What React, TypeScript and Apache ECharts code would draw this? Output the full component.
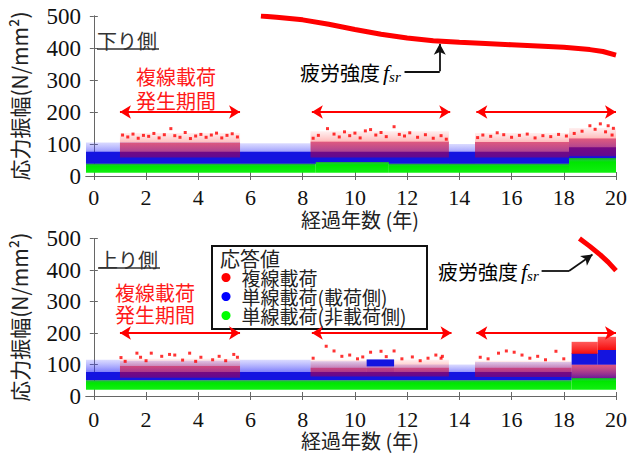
import React, { useEffect, useRef } from 'react';
import * as echarts from 'echarts';

const xTicks = [0, 2, 4, 6, 8, 10, 12, 14, 16, 18, 20];
const yTicks = [0, 100, 200, 300, 400, 500];
const names = ['複線載荷', '単線載荷(載荷側)', '単線載荷(非載荷側)'];

// fatigue strength f_sr [year, N/mm²]
const fsrDown = [[6.4, 500], [7, 496], [8, 488], [9, 474], [10, 458], [11, 443], [12, 431], [13, 423], [14, 418], [15, 414], [16, 410], [17, 406], [18, 402], [19, 395], [19.5, 389], [20, 378]];
const fsrUp = [[18.6, 500], [19, 475], [19.4, 448], [19.7, 425], [20, 398]];

// double-track loading periods [start, end]
const periodsDown = [[1.0, 5.6], [8.35, 13.65], [14.65, 20]];
const periodsUp = [[1.0, 5.6], [8.35, 13.7], [14.65, 20]];
const periodLevel = 200;

// response bands [x0, x1, low, high]  (下り側)
const greenDown = [[-0.3, 8.5, 10, 38], [8.5, 11.3, 10, 44], [11.3, 18.2, 10, 38], [18.2, 20, 10, 56]];
const blueDown = [[-0.3, 1.0, 38, 105], [1.0, 5.6, 38, 106], [5.6, 8.3, 38, 102], [8.3, 13.6, 38, 106], [13.6, 14.6, 38, 100], [14.6, 18.2, 38, 106], [18.2, 20, 52, 116]];
const blueDenseDown = [[-0.3, 18.2, 38, 76], [18.2, 20, 52, 90]];
const redBandDown = [[1.0, 5.6, 58, 104], [8.3, 13.6, 58, 108], [14.6, 18.2, 58, 106], [18.2, 20, 62, 118]];
const redSparseDown = [[1.0, 5.6, 104, 134], [8.3, 13.6, 108, 140], [14.6, 18.2, 106, 134], [18.2, 20, 118, 150]];
const redBlockDown: number[][] = [];
const redDotsDown = [
  [1.1, 128], [1.3, 122], [1.5, 131], [1.7, 118], [1.9, 127], [2.1, 124], [2.3, 133], [2.5, 119], [2.7, 129], [2.95, 148], [3.1, 126], [3.3, 121], [3.5, 136], [3.7, 117], [3.9, 125], [4.1, 130], [4.3, 121], [4.5, 128], [4.7, 134], [4.9, 119], [5.1, 127], [5.3, 132], [5.5, 122],
  [8.4, 118], [8.6, 127], [8.95, 148], [9.2, 131], [9.4, 122], [9.6, 138], [9.8, 126], [10.0, 134], [10.2, 119], [10.4, 141], [10.6, 145], [10.8, 128], [11.0, 136], [11.2, 123], [11.5, 154], [11.7, 130], [11.9, 125], [12.1, 135], [12.4, 121], [12.7, 129], [13.0, 118], [13.3, 126], [13.5, 115],
  [14.7, 120], [14.9, 128], [15.2, 124], [15.45, 135], [15.7, 129], [16.0, 121], [16.3, 127], [16.6, 131], [16.9, 119], [17.2, 126], [17.5, 123], [17.8, 130], [18.1, 125], [18.4, 133], [18.7, 140], [19.0, 157], [19.2, 146], [19.4, 163], [19.6, 138], [19.7, 157], [19.9, 149], [19.85, 128],
];

// response bands (上り側)
const greenUp = [[-0.3, 18.3, 20, 50], [18.3, 20, 20, 57]];
const blueUp = [[-0.3, 1.0, 50, 115], [1.0, 5.6, 50, 112], [5.6, 8.3, 50, 115], [8.3, 10.45, 50, 110], [10.45, 11.5, 50, 116], [11.5, 14.6, 50, 100], [14.6, 18.3, 50, 108], [18.3, 20, 57, 99]];
const blueDenseUp = [[-0.3, 18.3, 50, 76], [10.45, 11.5, 94, 116], [18.3, 19.3, 99, 136], [19.3, 20, 99, 146]];
const redBandUp = [[1.0, 5.6, 58, 95], [8.3, 13.6, 62, 90], [14.6, 18.3, 60, 90], [18.3, 20, 57, 99]];
const redSparseUp = [[1.0, 5.6, 95, 118], [8.3, 13.6, 90, 115], [14.6, 18.3, 90, 112]];
const redBlockUp = [[18.3, 19.3, 134, 172], [19.3, 20, 146, 188]];
const redDotsUp = [
  [1.04, 122], [1.2, 110], [1.65, 136], [1.79, 123], [2.0, 112], [2.2, 136], [2.6, 126], [2.9, 132], [3.1, 130], [3.4, 114], [3.67, 136], [3.9, 110], [4.1, 123], [4.55, 115], [4.8, 126], [5.05, 112], [5.36, 132], [5.5, 123],
  [8.4, 120], [8.9, 158], [9.2, 143], [9.5, 126], [9.8, 130], [10.1, 118], [10.3, 124], [10.6, 139], [11.0, 142], [11.2, 125], [11.5, 143], [11.8, 118], [12.2, 124], [12.5, 112], [12.8, 120], [13.1, 130], [13.3, 120], [13.35, 126],
  [14.8, 123], [15.1, 118], [15.5, 136], [15.8, 143], [16.1, 139], [16.4, 130], [16.7, 120], [17.0, 126], [17.3, 115], [17.7, 142], [18.0, 118],
];

const FONT_JP = "'Noto Sans CJK JP', sans-serif";
const FONT_NUM = "'Liberation Serif', serif";
const RED = '#ff0000';
const BLUE = '#0000ff';
const GREEN = '#00e600';

const grad = (stops: [number, string][]) =>
  new echarts.graphic.LinearGradient(0, 0, 0, 1, stops.map(([offset, color]) => ({ offset, color })));

function band(name: string, data: number[][], ai: number, fill: any, z: number, color: string) {
  return {
    type: 'custom', name, xAxisIndex: ai, yAxisIndex: ai, data, z, silent: true, clip: true,
    encode: { x: [0, 1], y: [2, 3] }, itemStyle: { color },
    renderItem: (_p: any, api: any) => {
      const a = api.coord([api.value(0), api.value(3)]);
      const b = api.coord([api.value(1), api.value(2)]);
      return { type: 'rect', shape: { x: a[0], y: a[1], width: b[0] - a[0], height: b[1] - a[1] }, style: { fill } };
    },
  };
}

function panelSeries(gi: number, d: any) {
  const ai = gi * 2;
  const blueLightFill = grad([[0, 'rgba(90,90,255,0.22)'], [0.45, 'rgba(50,50,250,0.5)'], [1, 'rgba(20,20,235,0.85)']]);
  const redFill = grad([[0, 'rgba(225,0,40,0.6)'], [1, 'rgba(160,0,80,0.55)']]);
  const redSparseFill = grad([[0, 'rgba(255,60,60,0.08)'], [1, 'rgba(255,30,30,0.3)']]);
  const redBlockFill = grad([[0, 'rgba(255,20,20,0.7)'], [1, 'rgba(245,0,0,0.95)']]);
  const greenFill = grad([[0, '#1f9a3a'], [0.15, '#14d028'], [0.28, GREEN], [1, '#10f010']]);
  const arrows = d.periods.map((p: number[]) => [
    { coord: [p[0], periodLevel], symbol: 'arrow' },
    { coord: [p[1], periodLevel], symbol: 'arrow' },
  ]);
  return [
    band(names[1], d.blue, ai, blueLightFill, 2, BLUE),
    band(names[0], d.redSparse, ai, redSparseFill, 2, RED),
    band(names[1], d.blueDense, ai, '#1414e0', 3, BLUE),
    band(names[0], d.red, ai, redFill, 4, RED),
    band(names[0], d.redBlock, ai, redBlockFill, 4, RED),
    band(names[2], d.green, ai, greenFill, 5, GREEN),
    {
      type: 'scatter', name: names[0], xAxisIndex: ai, yAxisIndex: ai, data: d.dots, symbol: 'rect', symbolSize: 3,
      itemStyle: { color: RED }, silent: true, z: 6,
    },
    {
      type: 'line', name: 'fsr', xAxisIndex: ai, yAxisIndex: ai, data: d.fsr, showSymbol: false, symbol: 'none',
      lineStyle: { color: RED, width: 5 }, silent: true, z: 7, clip: true,
      markLine: {
        silent: true, symbolSize: [10, 11], label: { show: false }, animation: false,
        lineStyle: { color: RED, width: 2, type: 'solid' },
        data: [
          ...arrows,
          ...d.note.map((seg: number[][], i: number) => [
            { coord: seg[0], symbol: 'none', lineStyle: { color: '#111', width: 1.8, type: 'solid' } },
            { coord: seg[1], symbol: i === d.note.length - 1 ? 'arrow' : 'none', symbolSize: [9, 11] },
          ]),
        ],
      },
    },
  ];
}

const axisFrame = { show: true, lineStyle: { color: '#666', width: 1 } };
const numLabel = (size: number) => ({
  formatter: '{n|{value}}',
  rich: { n: { fontFamily: FONT_NUM, fontSize: size, color: '#111' } },
});

function xAxes(gi: number, margin: number) {
  return [
    {
      type: 'value', gridIndex: gi, min: -0.3, max: 20, position: 'bottom',
      axisLine: axisFrame, splitLine: { show: false },
      axisTick: { inside: true, length: 4, customValues: xTicks, lineStyle: { color: '#666' } },
      axisLabel: { ...numLabel(22), customValues: xTicks, margin },
    },
    {
      type: 'value', gridIndex: gi, min: -0.3, max: 20, position: 'top',
      axisLine: axisFrame, splitLine: { show: false }, axisLabel: { show: false },
      axisTick: { inside: true, length: 4, customValues: xTicks, lineStyle: { color: '#666' } },
    },
  ];
}

function yAxes(gi: number) {
  return [
    {
      type: 'value', gridIndex: gi, min: 0, max: 500, interval: 100, position: 'left',
      axisLine: axisFrame, splitLine: { show: false },
      axisTick: { inside: true, length: 4, customValues: yTicks, lineStyle: { color: '#666' } },
      axisLabel: { ...numLabel(23), customValues: yTicks, margin: 5 },
      name: '応力振幅(N/mm²)', nameLocation: 'middle', nameRotate: 90, nameGap: 57,
      nameTextStyle: { fontFamily: FONT_JP, fontSize: 21, color: '#222' },
    },
    {
      type: 'value', gridIndex: gi, min: 0, max: 500, interval: 100, position: 'right',
      axisLine: axisFrame, splitLine: { show: false }, axisLabel: { show: false },
      axisTick: { inside: true, length: 4, customValues: yTicks, lineStyle: { color: '#666' } },
    },
  ];
}

const fsrRich = (x: number, y: number) => ({
  type: 'text', x, y, z: 10,
  style: {
    text: '{a|疲労強度}{f|f}{s|sr}', verticalAlign: 'middle', align: 'left',
    rich: {
      a: { fontFamily: FONT_JP, fontSize: 20, color: '#222', lineHeight: 24, verticalAlign: 'middle' },
      f: { fontFamily: FONT_NUM, fontStyle: 'italic', fontSize: 22, color: '#222', lineHeight: 24, padding: [0, 0, 0, 3] },
      s: { fontFamily: FONT_NUM, fontStyle: 'italic', fontSize: 15, color: '#222', lineHeight: 24, verticalAlign: 'bottom' },
    },
  },
});

const sideLabel = (text: string, x: number, y: number) => [
  { type: 'text', x, y, z: 10, style: { text, fontFamily: FONT_JP, fontSize: 20, fill: '#333', verticalAlign: 'middle' } },
  { type: 'line', z: 10, shape: { x1: x, y1: y + 9, x2: x + 62, y2: y + 9 }, style: { stroke: '#333', lineWidth: 1.5 } },
];

const periodLabel = (cx: number, cy: number, lh: number) => ({
  type: 'text', x: cx, y: cy, z: 10,
  style: { text: '複線載荷\n発生期間', fontFamily: FONT_JP, fontSize: 20, lineHeight: lh, fill: '#ff1a1a', align: 'center', verticalAlign: 'middle' },
});

const option: any = {
  animation: false,
  backgroundColor: '#fff',
  grid: [
    { left: 79, top: 16, width: 540, height: 160 },
    { left: 79, top: 238.5, width: 540, height: 157.5 },
  ],
  xAxis: [...xAxes(0, 10), ...xAxes(1, 12)],
  yAxis: [...yAxes(0), ...yAxes(1)],
  legend: {
    left: 216.5, top: 263, orient: 'vertical', itemGap: 0, itemWidth: 9, itemHeight: 9, selectedMode: false, z: 12,
    icon: 'circle',
    textStyle: { fontFamily: FONT_JP, fontSize: 19, color: '#222', lineHeight: 19, padding: [0, 0, 0, 6] },
    data: [
      { name: names[0], icon: 'circle', itemStyle: { color: RED } },
      { name: names[1], icon: 'circle', itemStyle: { color: BLUE } },
      { name: names[2], icon: 'circle', itemStyle: { color: '#00ff00' } },
    ],
  },
  graphic: [
    ...sideLabel('下り側', 97, 40),
    ...sideLabel('上り側', 98, 259),
    periodLabel(176, 88, 24),
    periodLabel(155, 303, 22),
    fsrRich(300, 72),
    fsrRich(438, 271),
    { type: 'rect', z: 1, shape: { x: 212, y: 246, width: 215, height: 83 }, style: { fill: '#fff', stroke: '#111', lineWidth: 2 } },
    { type: 'text', x: 220, y: 258, z: 11, style: { text: '応答値', fontFamily: FONT_JP, fontSize: 20, fill: '#222', verticalAlign: 'middle' } },
    { type: 'text', x: 360, y: 219, z: 10, style: { text: '経過年数 (年)', fontFamily: FONT_JP, fontSize: 20, fill: '#222', align: 'center', verticalAlign: 'middle' } },
    { type: 'text', x: 360, y: 440, z: 10, style: { text: '経過年数 (年)', fontFamily: FONT_JP, fontSize: 20, fill: '#222', align: 'center', verticalAlign: 'middle' } },
  ],
  series: [
    ...panelSeries(0, {
      blue: blueDown, blueDense: blueDenseDown, red: redBandDown, redSparse: redSparseDown, redBlock: redBlockDown,
      green: greenDown, dots: redDotsDown, fsr: fsrDown, periods: periodsDown,
      note: [[[11.9, 327], [13.25, 327]], [[13.25, 327], [13.25, 413]]],
    }),
    ...panelSeries(1, {
      blue: blueUp, blueDense: blueDenseUp, red: redBandUp, redSparse: redSparseUp, redBlock: redBlockUp,
      green: greenUp, dots: redDotsUp, fsr: fsrUp, periods: periodsUp,
      note: [[[17.15, 397], [18.2, 397]], [[18.2, 397], [19.1, 449]]],
    }),
  ],
};

export default function App() {
  const ref = useRef<HTMLDivElement>(null);
  useEffect(() => {
    document.body.style.margin = '0';
    const chart = echarts.init(ref.current!, null, { renderer: 'svg' });
    chart.setOption(option);
    return () => chart.dispose();
  }, []);
  return <div ref={ref} style={{ width: 630, height: 453 }} />;
}
